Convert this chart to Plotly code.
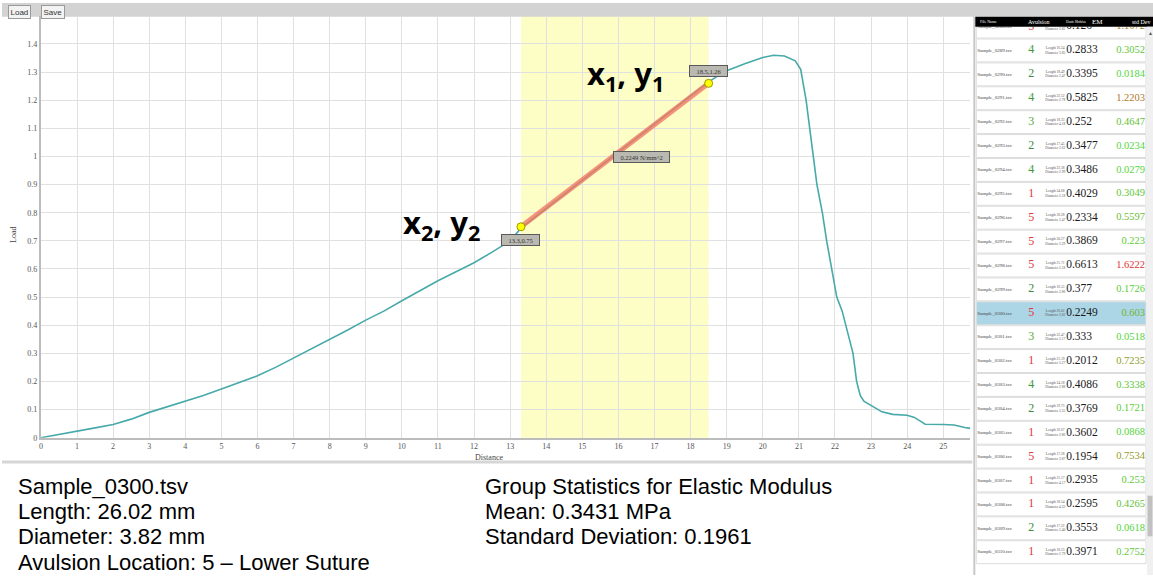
import plotly.graph_objects as go

W, H = 1153, 580

# ---- load / distance record of the selected sample ----
distance = [0, 0.5, 1, 1.5, 2, 2.5, 3, 3.5, 4, 4.5,
            5, 5.5, 6, 6.5, 7, 7.5, 8, 8.5, 9, 9.5,
            10, 10.5, 11, 11.5, 12, 12.5, 13, 13.3, 13.5, 14,
            14.5, 15, 15.5, 16, 16.5, 17, 17.5, 18, 18.5, 18.8,
            19, 19.5, 20, 20.3, 20.6, 20.9, 21.05, 21.2, 21.3, 21.4,
            21.5, 21.65, 21.77, 21.9, 22.05, 22.2, 22.35, 22.5, 22.6, 22.7,
            22.8, 23.0, 23.3, 23.6, 24.0, 24.2, 24.5, 25.0, 25.3, 25.6,
            25.75]
load = [0, 0.011, 0.023, 0.035, 0.047, 0.066, 0.09, 0.11, 0.129, 0.15,
        0.173, 0.196, 0.22, 0.25, 0.283, 0.315, 0.35, 0.383, 0.418, 0.45,
        0.487, 0.523, 0.558, 0.59, 0.622, 0.66, 0.70, 0.745, 0.765, 0.815,
        0.865, 0.915, 0.965, 1.017, 1.067, 1.117, 1.165, 1.215, 1.265, 1.29,
        1.305, 1.33, 1.352, 1.36, 1.357, 1.34, 1.31, 1.20, 1.09, 1.0,
        0.9, 0.8, 0.7, 0.6, 0.5, 0.45, 0.38, 0.30, 0.20, 0.15,
        0.13, 0.115, 0.092, 0.083, 0.08, 0.072, 0.048, 0.047, 0.045, 0.036,
        0.033]

# selected linear region and its end points
fit_x = [13.3, 18.5]
fit_y = [0.75, 1.26]
fit_labels = ["13.3,0.75", "18.5,1.26"]
modulus_label = "0.2249 N/mm^2"

x_ticks = list(range(0, 26))
y_ticks = [0, 0.1, 0.2, 0.3, 0.4, 0.5, 0.6, 0.7, 0.8, 0.9, 1.0, 1.1, 1.2, 1.3, 1.4]
y_tick_text = ["0", "0.1", "0.2", "0.3", "0.4", "0.5", "0.6", "0.7", "0.8", "0.9",
               "1", "1.1", "1.2", "1.3", "1.4"]

# ---- sample list ----
files = ["Sample_0288.tsv", "Sample_0289.tsv", "Sample_0290.tsv", "Sample_0291.tsv",
         "Sample_0292.tsv", "Sample_0293.tsv", "Sample_0294.tsv", "Sample_0295.tsv",
         "Sample_0296.tsv", "Sample_0297.tsv", "Sample_0298.tsv", "Sample_0299.tsv",
         "Sample_0300.tsv", "Sample_0301.tsv", "Sample_0302.tsv", "Sample_0303.tsv",
         "Sample_0304.tsv", "Sample_0305.tsv", "Sample_0306.tsv", "Sample_0307.tsv",
         "Sample_0308.tsv", "Sample_0309.tsv", "Sample_0310.tsv"]
avulsion = [5, 4, 2, 4, 3, 2, 4, 1, 5, 5, 5, 2, 5, 3, 1, 4, 2, 1, 5, 1, 1, 2, 1]
lengths = [21.40, 16.24, 18.49, 22.52, 18.33, 17.45, 22.38, 24.68, 18.28, 20.27, 21.71, 16.55,
           26.02, 22.47, 21.19, 24.18, 19.73, 16.67, 17.28, 21.17, 18.54, 17.22, 18.23]
diameters = [3.82, 3.85, 2.47, 2.78, 4.18, 2.62, 2.99, 3.18, 3.47, 3.29, 3.18, 3.86,
             3.82, 3.17, 3.27, 2.88, 3.35, 2.86, 3.87, 4.17, 4.32, 3.40, 2.79]
em = [0.126, 0.2833, 0.3395, 0.5825, 0.252, 0.3477, 0.3486, 0.4029, 0.2334, 0.3869, 0.6613, 0.377,
      0.2249, 0.333, 0.2012, 0.4086, 0.3769, 0.3602, 0.1954, 0.2935, 0.2595, 0.3553, 0.3971]
em_dev = [1.1072, 0.3052, 0.0184, 1.2203, 0.4647, 0.0234, 0.0279, 0.3049, 0.5597, 0.223, 1.6222, 0.1726,
          0.603, 0.0518, 0.7235, 0.3338, 0.1721, 0.0868, 0.7534, 0.253, 0.4265, 0.0618, 0.2752]
selected = "Sample_0300.tsv"

info_left = ["Sample_0300.tsv", "Length: 26.02 mm", "Diameter: 3.82 mm",
             "Avulsion Location: 5 \u2013 Lower Suture"]
info_right = ["Group Statistics for Elastic Modulus", "Mean: 0.3431 MPa",
              "Standard Deviation: 0.1961"]

# ---- pixel helpers for the page layout ----
def px(x):
    return x / W


def py(y):
    return 1 - y / H


SERIF = "Liberation Serif"
SANS = "Liberation Sans"
PAD = "&nbsp;&nbsp;&nbsp;"

ROW0, ROW_H = 26.8, 24.1
rows_y = [ROW0 + ROW_H * i for i in range(len(files))]

AV_COL = {1: "#e03a3a", 5: "#e03a3a", 2: "#3d8a3d", 3: "#5aa83a", 4: "#3d9a3d"}


def dev_color(v):
    stops = [(0.0, (80, 215, 60)), (0.6, (110, 185, 50)), (0.75, (150, 155, 40)),
             (1.2, (170, 125, 45)), (1.6, (225, 50, 50))]
    if v >= stops[-1][0]:
        c = stops[-1][1]
    else:
        for (a, ca), (b, cb) in zip(stops, stops[1:]):
            if a <= v <= b:
                t = (v - a) / (b - a)
                c = tuple(round(ca[k] + (cb[k] - ca[k]) * t) for k in range(3))
                break
    return "rgb(%d,%d,%d)" % c


def note(x, y, text, size, color="#000", family=SANS, xanchor="center", **kw):
    """Paper-positioned label given in page pixels."""
    return dict(x=px(x), y=py(y), xref="paper", yref="paper", text=text, showarrow=False,
                xanchor=xanchor, yanchor="middle",
                font=dict(family=family, size=size, color=color), **kw)


fig = go.Figure()

# load curve
fig.add_trace(go.Scatter(x=distance, y=load, mode="lines",
                         line=dict(color="#48a9a9", width=1.6), showlegend=False,
                         xaxis="x", yaxis="y"))
# fitted segment
fig.add_trace(go.Scatter(x=fit_x, y=fit_y, mode="lines",
                         line=dict(color="rgba(240,120,100,0.8)", width=5),
                         showlegend=False, xaxis="x", yaxis="y"))
fig.add_trace(go.Scatter(x=fit_x, y=fit_y, mode="markers",
                         marker=dict(size=8, color="#ffff00", line=dict(color="#9a9a00", width=1)),
                         showlegend=False, xaxis="x", yaxis="y"))

# ---- sample table (one column per text trace) ----
sel_i = files.index(selected)
fig.add_trace(go.Scatter(x=[977] * len(files), y=rows_y, text=files, mode="text",
                         textposition="middle right",
                         textfont=dict(family=SERIF, size=5, color="#444"),
                         showlegend=False, xaxis="x2", yaxis="y2"))
fig.add_trace(go.Scatter(x=[1031] * len(files), y=rows_y, text=[str(a) for a in avulsion],
                         mode="text", textposition="middle center",
                         textfont=dict(family=SERIF, size=12, color=[AV_COL[a] for a in avulsion]),
                         showlegend=False, xaxis="x2", yaxis="y2"))
fig.add_trace(go.Scatter(x=[1055] * len(files), y=rows_y,
                         text=["Length %.2f<br>Diameter %.2f" % (l, d) for l, d in zip(lengths, diameters)],
                         mode="text", textposition="middle center",
                         textfont=dict(family=SERIF, size=3.5, color="#555"),
                         showlegend=False, xaxis="x2", yaxis="y2"))
fig.add_trace(go.Scatter(x=[1066] * len(files), y=rows_y, text=[str(v) for v in em],
                         mode="text", textposition="middle right",
                         textfont=dict(family=SERIF, size=11.5, color="#1a1a1a"),
                         showlegend=False, xaxis="x2", yaxis="y2"))
fig.add_trace(go.Scatter(x=[1145] * len(files), y=rows_y, text=[str(v) for v in em_dev],
                         mode="text", textposition="middle left",
                         textfont=dict(family=SERIF, size=10.5, color=[dev_color(v) for v in em_dev]),
                         showlegend=False, xaxis="x2", yaxis="y2"))

shapes = []
# highlighted band of the selected range
shapes.append(dict(type="rect", xref="x", yref="y domain", x0=fit_x[0], x1=fit_x[1], y0=0, y1=1,
                   fillcolor="#fdfdc6", line=dict(width=0), layer="below"))
# toolbar strip
shapes.append(dict(type="rect", xref="paper", yref="paper", x0=0, x1=1, y0=py(17), y1=py(3),
                   fillcolor="#d3d3d3", line=dict(width=0), layer="below"))
# bottom border of chart panel
shapes.append(dict(type="line", xref="paper", yref="paper", x0=0, x1=px(972), y0=py(466), y1=py(466),
                   line=dict(color="#d6d6d6", width=3)))
# table rows
for i, y in enumerate(rows_y):
    shapes.append(dict(type="rect", xref="x2", yref="y2", x0=976, x1=1146,
                       y0=y - ROW_H / 2 + 0.5, y1=y + ROW_H / 2 - 0.5,
                       fillcolor="#acd5e5" if i == sel_i else "#ffffff",
                       line=dict(color="#dcdcdc", width=1), layer="below"))
# table frame, header and scrollbar
shapes.append(dict(type="line", xref="paper", yref="paper", x0=px(974), x1=px(974), y0=0, y1=py(17),
                   line=dict(color="#c8c8c8", width=2)))
shapes.append(dict(type="rect", xref="paper", yref="paper", x0=px(975), x1=1, y0=py(27), y1=py(17),
                   fillcolor="#000000", line=dict(width=0)))
shapes.append(dict(type="rect", xref="paper", yref="paper", x0=px(1147), x1=1, y0=0, y1=py(27),
                   fillcolor="#f0f0f0", line=dict(width=0)))
shapes.append(dict(type="rect", xref="paper", yref="paper", x0=px(1147.5), x1=px(1152.5), y0=py(541), y1=py(500),
                   fillcolor="#c1c1c1", line=dict(width=0)))

annotations = []
# point labels on the fit
for xv, yv, lab, ys in zip(fit_x, fit_y, fit_labels, [-13, 12]):
    annotations.append(dict(x=xv, y=yv, xref="x", yref="y", text=PAD + lab + PAD, showarrow=False,
                            xanchor="center", yanchor="middle", yshift=ys,
                            font=dict(family=SERIF, size=6.5, color="#333"),
                            bgcolor="#b9b9b1", bordercolor="#5a5a5a", borderwidth=1, borderpad=1.5))
annotations.append(dict(x=(fit_x[0] + fit_x[1]) / 2, y=(fit_y[0] + fit_y[1]) / 2, xref="x", yref="y",
                        text=PAD + modulus_label + PAD, showarrow=False, xanchor="left", yanchor="middle",
                        xshift=-2, yshift=-2,
                        font=dict(family=SERIF, size=6.5, color="#333"),
                        bgcolor="#b9b9b1", bordercolor="#5a5a5a", borderwidth=1, borderpad=1.5))
# end point call-outs
annotations.append(note(625, 76, "<b>x<sub>1</sub>, y<sub>1</sub></b>", 31, family="Noto Sans"))
annotations.append(note(440, 226, "<b>x<sub>2</sub>, y<sub>2</sub></b>", 31, family="Noto Sans"))
# axis titles
annotations.append(note(488, 461, "Distance", 8, "#444", SERIF))
annotations.append(note(12, 237, "Load", 8, "#444", SERIF, textangle=-90))
# toolbar buttons
for lab, cx in [("Load", 18), ("Save", 51)]:
    annotations.append(note(cx, 12.5, lab, 8, "#333", bgcolor="#f3f3f3",
                            bordercolor="#9a9a9a", borderwidth=1, borderpad=1.5))
# table header
for lab, cx, sz, anc in [("File Name", 978, 4, "left"), ("Avulsion", 1026, 6, "left"),
                         ("Elastic Modulus", 1064, 3, "left"), ("EM", 1090, 7, "left"),
                         ("std Dev", 1153, 6, "right")]:
    annotations.append(note(cx, 22, lab, sz, "#fff", SERIF, xanchor=anc))
annotations.append(note(1150, 33, "\u25b2", 5, "#555"))
# sample and group summaries
for i, line in enumerate(info_left):
    annotations.append(note(14, 491 + 25.3 * i, line, 22, xanchor="left"))
for i, line in enumerate(info_right):
    annotations.append(note(482, 491 + 25.3 * i, line, 22, xanchor="left"))

fig.update_layout(
    width=W, height=H, margin=dict(l=0, r=0, t=0, b=0),
    paper_bgcolor="#ffffff", plot_bgcolor="#ffffff",
    showlegend=False,
    xaxis=dict(domain=[px(39), px(970)], range=[0, 25.75], tickvals=x_ticks,
               showgrid=True, gridcolor="#e0e0e0", gridwidth=1, zeroline=False,
               showline=True, linecolor="#bcbcbc", linewidth=2, ticks="",
               tickfont=dict(family=SERIF, size=8, color="#555"), anchor="y"),
    yaxis=dict(domain=[py(441.5), py(16)], range=[0, 1.5], tickvals=y_ticks, ticktext=y_tick_text,
               showgrid=True, gridcolor="#e0e0e0", gridwidth=1, zeroline=False,
               showline=True, linecolor="#bcbcbc", linewidth=2, ticks="",
               tickfont=dict(family=SERIF, size=8, color="#555"), anchor="x"),
    xaxis2=dict(domain=[px(975), px(1147)], range=[975, 1147], visible=False, anchor="y2"),
    yaxis2=dict(domain=[0, py(27)], range=[580, 27], visible=False, anchor="x2"),
    shapes=shapes, annotations=annotations,
)

fig.write_html("out.html")
